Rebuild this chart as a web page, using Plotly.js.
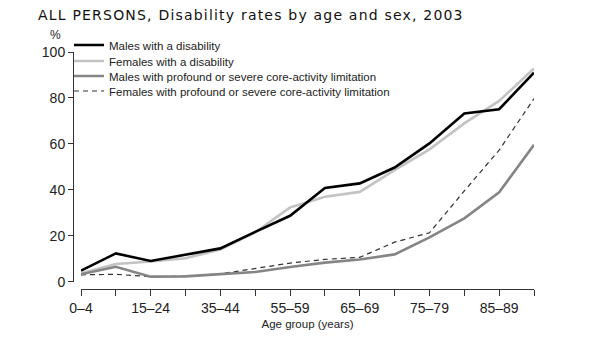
<!DOCTYPE html>
<html>
<head>
<meta charset="utf-8">
<script src="https://cdn.plot.ly/plotly-3.0.1.min.js"></script>
<style>
  html, body { margin: 0; padding: 0; background: #fff; }
  #chart { width: 601px; height: 355px; }
  .gtitle { letter-spacing: 1.2px; }
</style>
</head>
<body>
<div id="chart"></div>
<script>
const ageGroups = ['0–4','5–14','15–24','25–34','35–44','45–54','55–59','60–64','65–69','70–74','75–79','80–84','85–89','90+'];
const tickLabels = ['0–4','','15–24','','35–44','','55–59','','65–69','','75–79','','85–89',''];

const malesDisability   = [4.8, 12.3, 9.0, 11.6, 14.5, 21.7, 28.7, 40.8, 42.8, 49.7, 60.2, 73.2, 75.1, 91.0];
const femalesDisability = [3.6, 7.7, 8.8, 10.2, 14.0, 21.5, 32.3, 37.0, 39.1, 48.6, 57.6, 68.9, 78.7, 92.8];
const malesProfound     = [3.2, 6.5, 2.2, 2.3, 3.3, 4.2, 6.4, 8.3, 9.7, 11.9, 19.3, 27.6, 38.9, 59.6];
const femalesProfound   = [3.0, 3.2, 2.2, 2.4, 3.4, 5.8, 8.1, 9.7, 10.6, 17.2, 21.3, 39.5, 57.3, 79.7];

const names = [
  'Males with a disability',
  'Females with a disability',
  'Males with profound or severe core-activity limitation',
  'Females with profound or severe core-activity limitation'
];

const traces = [
  {x: ageGroups, y: femalesDisability, name: names[1], legend: 'legend2',
   mode: 'lines', line: {color: '#c3c3c3', width: 2.6}},
  {x: ageGroups, y: femalesProfound, name: names[3], legend: 'legend4',
   mode: 'lines', line: {color: '#333333', width: 1.2, dash: '5px,4px'}},
  {x: ageGroups, y: malesProfound, name: names[2], legend: 'legend3',
   mode: 'lines', line: {color: '#858585', width: 2.6}},
  {x: ageGroups, y: malesDisability, name: names[0], legend: 'legend',
   mode: 'lines', line: {color: '#000000', width: 2.6}}
];

const legendFont = {family: 'Liberation Sans, Arial, sans-serif', size: 11.5, color: '#222'};
function leg(yPx) {
  return {x: (69 - 73) / 461, xanchor: 'left', y: (289 - yPx) / 237, yanchor: 'middle',
          bgcolor: 'rgba(0,0,0,0)', borderwidth: 0, font: legendFont};
}

const layout = {
  width: 601, height: 355,
  margin: {l: 73, r: 67, t: 52, b: 66, autoexpand: false},
  paper_bgcolor: '#ffffff', plot_bgcolor: '#ffffff',
  showlegend: true,
  title: {
    text: 'ALL PERSONS, Disability rates by age and sex, 2003',
    font: {family: 'DejaVu Sans, sans-serif', size: 14, color: '#111'},
    xref: 'container', x: 38 / 601, xanchor: 'left',
    yref: 'container', y: 1 - 15 / 355, yanchor: 'middle'
  },
  legend: leg(45),
  legend2: leg(61),
  legend3: leg(76),
  legend4: leg(91),
  xaxis: {
    type: 'category', range: [0, 13],
    domain: [8 / 461, 1], anchor: 'free', position: 0,
    tickmode: 'array', tickvals: ageGroups, ticktext: tickLabels,
    ticks: 'outside', ticklen: 6, tickcolor: '#333', tickwidth: 1,
    showline: true, linecolor: '#333', linewidth: 1,
    showgrid: false, zeroline: false,
    tickfont: {family: 'Liberation Sans, Arial, sans-serif', size: 14, color: '#222'},
    title: {text: 'Age group (years)', standoff: 5,
            font: {family: 'Liberation Sans, Arial, sans-serif', size: 11.5, color: '#222'}}
  },
  yaxis: {
    range: [0, 100], domain: [7.3 / 237, 1], anchor: 'free', position: 0,
    tickvals: [0, 20, 40, 60, 80, 100],
    ticks: 'outside', ticklen: 5, tickcolor: '#333', tickwidth: 1,
    showline: true, linecolor: '#333', linewidth: 1,
    showgrid: false, zeroline: false,
    tickfont: {family: 'Liberation Sans, Arial, sans-serif', size: 14, color: '#222'}
  },
  annotations: [{
    text: '%', xref: 'paper', yref: 'paper',
    x: (55 - 73) / 461, y: (289 - 35) / 237, xanchor: 'center', yanchor: 'middle',
    showarrow: false, font: {family: 'Liberation Sans, Arial, sans-serif', size: 12, color: '#222'}
  }]
};

Plotly.newPlot('chart', traces, layout, {displayModeBar: false, staticPlot: true});
</script>
</body>
</html>
